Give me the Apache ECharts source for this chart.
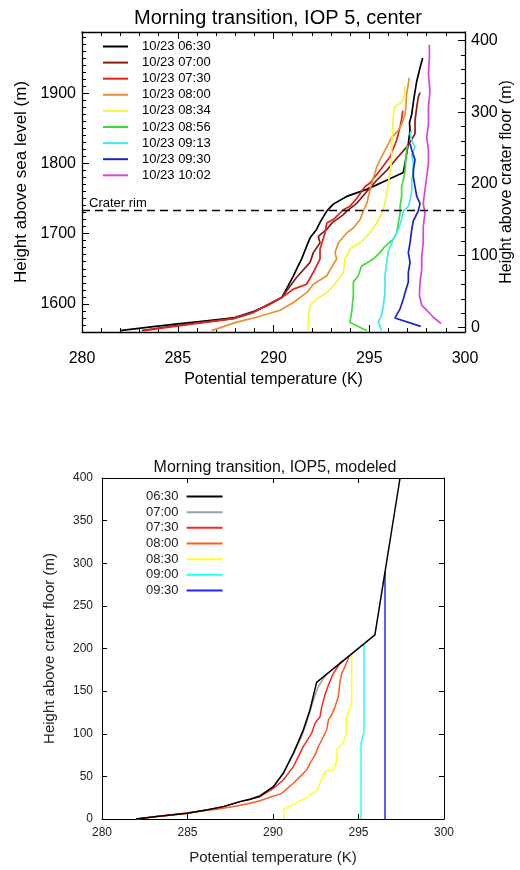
<!DOCTYPE html>
<html><head><meta charset="utf-8">
<script src="https://cdn.jsdelivr.net/npm/echarts@6/dist/echarts.min.js"></script>
<style>html,body{margin:0;padding:0;background:#fff}#c{width:520px;height:870px}</style>
</head><body><div id="c"></div>
<script>
const FONT = '"Liberation Sans", Arial, sans-serif';

// ---------- Top panel: observed profiles [potential temperature K, height ASL m]
const obsLabels = ['10/23 06:30','10/23 07:00','10/23 07:30','10/23 08:00','10/23 08:34','10/23 08:56','10/23 09:13','10/23 09:30','10/23 10:02'];
const obsColors = ['#000000','#8a1c12','#e0201c','#e8902e','#f6f43c','#3ede3a','#44e8e6','#1c22c8','#e03ee0'];
const obs0630 = [[281.98,1562],[283.5,1567],[285.12,1572],[286.5,1576],[287.90,1580],[288.95,1589],[289.7,1598],[290.43,1609],[290.75,1625],[291.04,1640],[291.25,1652],[291.47,1664],[291.7,1680],[291.91,1694],[292.25,1706],[292.43,1716],[292.78,1732],[293.12,1742],[293.82,1753],[294.87,1763],[295.91,1776],[296.78,1787],[296.9,1805],[297.04,1828],[297.13,1847],[297.1,1858],[297.22,1870],[297.34,1894],[297.48,1917],[297.65,1936],[297.79,1950]];
const obs0700 = [[283.12,1562],[285.12,1570],[287.90,1579],[288.95,1588],[290.43,1609],[291.21,1638],[291.91,1659],[292.08,1673],[292.43,1687],[292.34,1696],[292.78,1706],[293.04,1715],[293.65,1727],[293.82,1732],[294.34,1743],[294.87,1760],[295.39,1776],[295.91,1790],[296.43,1807],[297.04,1826],[297.39,1842],[297.39,1861],[297.48,1880],[297.56,1894],[297.65,1901]];
const obs0730 = [[283.20,1562],[285.12,1569],[287.90,1579],[288.95,1588],[290.43,1609],[291.04,1621],[291.73,1628],[292.08,1645],[292.43,1664],[292.43,1678],[292.69,1701],[292.78,1715],[293.12,1720],[293.65,1734],[293.99,1739],[294.34,1750],[294.78,1767],[295.04,1772],[295.56,1790],[296.08,1809],[296.43,1833],[296.61,1852],[296.69,1863],[296.75,1875]];
const obs0800 = [[286.77,1562],[288.08,1574],[289.12,1581],[290.34,1591],[291.04,1602],[291.73,1616],[292.08,1628],[292.78,1640],[293.12,1656],[293.30,1664],[293.21,1673],[293.39,1687],[293.82,1701],[294.17,1708],[294.52,1720],[294.69,1732],[294.87,1743],[295.04,1762],[295.21,1779],[295.39,1795],[295.56,1805],[295.91,1823],[296.17,1837],[296.52,1847],[296.69,1856],[296.87,1870],[296.92,1884],[296.95,1898],[297.04,1913],[297.09,1922]];
const obs0834 = [[291.82,1562],[291.82,1584],[291.91,1598],[292.25,1607],[292.78,1616],[293.30,1631],[293.65,1645],[293.73,1664],[293.82,1668],[293.99,1678],[294.52,1687],[295.04,1701],[295.39,1715],[295.65,1729],[295.82,1743],[295.91,1757],[296.00,1772],[296.08,1786],[296.17,1805],[296.17,1823],[296.22,1847],[296.26,1870],[296.34,1880],[296.69,1887],[296.87,1898],[296.87,1910]];
const obs0856 = [[294.87,1562],[294.34,1569],[293.99,1574],[294.08,1588],[294.17,1612],[294.17,1631],[294.43,1640],[294.60,1654],[295.21,1664],[295.56,1673],[295.82,1682],[296.26,1692],[296.43,1701],[296.52,1715],[296.61,1729],[296.61,1739],[296.69,1753],[296.69,1767],[296.78,1776],[296.87,1790],[296.92,1809],[296.99,1826]];
const obs0913 = [[295.65,1562],[295.47,1574],[295.65,1584],[295.74,1598],[295.82,1616],[295.82,1640],[295.91,1659],[296.00,1675],[296.26,1692],[296.52,1706],[296.69,1720],[296.78,1732],[297.04,1739],[297.13,1748],[297.22,1762],[297.22,1776],[297.30,1786],[297.30,1800],[297.22,1812],[297.39,1823],[297.22,1833],[297.13,1842],[297.22,1847]];
const obs0930 = [[297.69,1568],[296.34,1580],[296.61,1593],[296.78,1607],[296.87,1616],[297.04,1631],[297.04,1645],[297.13,1659],[297.04,1673],[297.13,1687],[297.22,1706],[297.30,1718],[297.56,1732],[297.65,1743],[297.48,1753],[297.39,1767],[297.30,1781],[297.30,1790],[297.39,1805],[297.22,1819],[297.13,1828]];
const obs1002 = [[298.75,1572],[298.35,1581],[298.00,1591],[297.74,1598],[297.62,1612],[297.65,1631],[297.74,1649],[297.74,1668],[297.82,1687],[297.82,1710],[297.91,1729],[297.82,1743],[297.91,1762],[298.00,1781],[298.09,1800],[298.09,1819],[298.00,1837],[298.09,1856],[298.09,1880],[298.17,1903],[298.09,1927],[298.14,1950],[298.14,1969]];
const obsData = [obs0630, obs0700, obs0730, obs0800, obs0834, obs0856, obs0913, obs0930, obs1002];
const craterRim = 1733;           // m ASL
const aslRange = [1560, 1987];     // left axis
const floorRange = [-6.3, 411.8];  // right axis
const aslTickLabels = [1600, 1700, 1800, 1900];
const floorTickLabels = [0, 100, 200, 300, 400];

// ---------- Bottom panel: modeled profiles [potential temperature K, height above floor m]
const modLabels = ['06:30','07:00','07:30','08:00','08:30','09:00','09:30'];
const modColors = ['#000000','#a0a0a0','#ff2424','#ff5a22','#ffff1e','#22ffff','#2424ff'];
const mod0630 = [[281.99,0],[283.20,2.8],[284.95,6.7],[286.12,10.6],[287.10,14.5],[288.07,20.4],[288.66,23.1],[289.24,27.0],[290.02,37.9],[290.60,53.6],[291.19,77.0],[291.77,104.4],[292.16,127.9],[292.55,160.3],[295.96,215.9],[297.43,400]];
const mod0700 = [[281.99,0],[283.20,2.8],[284.95,6.7],[286.12,10.6],[287.10,14.5],[288.07,20.4],[288.66,23.1],[289.24,27.0],[290.02,37.9],[290.60,53.6],[291.19,77.0],[291.66,96],[291.88,108],[292.10,122],[292.28,134],[292.46,145],[292.62,154],[292.80,160],[293.10,169.3]];
const mod0730 = [[281.99,0],[283.20,2.8],[284.95,6.7],[286.12,10.6],[287.10,14.5],[288.07,20.4],[288.66,23.1],[289.24,26.2],[290.02,36.0],[290.60,45.8],[291.19,61.4],[291.48,73.1],[291.77,84.9],[292.26,100.5],[292.46,112.3],[292.75,120.1],[292.85,131.8],[293.04,145.5],[293.24,157.2],[293.53,170.9],[293.92,182.6],[294.11,185.7]];
const mod0800 = [[281.99,0],[283.20,2.8],[284.95,6.5],[286.12,10.2],[286.71,11.4],[287.88,15.3],[288.66,18.4],[289.24,21.5],[289.92,26.2],[290.51,30.1],[291.19,41.9],[291.58,49.7],[291.97,57.5],[292.16,65.3],[292.46,75.1],[292.65,84.9],[292.85,92.7],[293.14,104.4],[293.24,116.2],[293.43,122.0],[293.63,131.8],[293.82,143.5],[293.92,161.1],[294.02,170.9],[294.21,178.7],[294.46,191.4]];
const mod0830 = [[290.64,0],[290.64,11.4],[290.99,14.5],[291.48,20.4],[292.07,26.2],[292.26,30.1],[292.55,32.1],[292.75,41.9],[293.04,55.5],[293.53,57.5],[293.72,67.3],[293.76,82.9],[294.11,88.8],[294.27,100.5],[294.31,120.1],[294.41,122.0],[294.60,135.7],[294.60,193.7]];
const mod0900 = [[295.15,0],[295.15,88.8],[295.24,96.6],[295.32,102.5],[295.32,205.5]];
const mod0930 = [[296.55,0],[296.55,289.6]];
const modData = [mod0630, mod0700, mod0730, mod0800, mod0830, mod0900, mod0930];
const thetaTicks = [280, 300, 5];

// minor tick positions (tick values, not data)
function steps(a, b, s) { const r = []; for (let v = a; v <= b + 1e-9; v += s) r.push(Math.round(v * 1000) / 1000); return r; }
const thetaMinor = steps(280, 300, 1);
const aslMinor = steps(1560, 1980, 10);
const floorMinor = steps(0, 400, 20);

// ---------- helpers
function xAx(grid, pos, showLabel, big) {
  return {
    type: 'value', gridIndex: grid, position: pos, min: thetaTicks[0], max: thetaTicks[1], interval: thetaTicks[2],
    axisLine: {show: true, onZero: false, lineStyle: {color: '#000', width: big ? 1.3 : 1}},
    axisTick: {show: true, inside: true, length: big ? 7 : 5, lineStyle: {color: '#000', width: 1}},
    splitLine: {show: false},
    axisLabel: {show: showLabel, fontSize: big ? 16 : 12, color: big ? '#000' : '#222', margin: big ? 19 : 8, fontFamily: FONT},
    name: showLabel ? 'Potential temperature (K)' : '',
    nameLocation: 'middle', nameGap: big ? 40 : 31,
    nameTextStyle: {fontSize: big ? 16 : 15, color: big ? '#000' : '#222', fontFamily: FONT}
  };
}
function tickAx(grid, pos, range, values) {
  return {
    type: 'value', gridIndex: grid, position: pos, min: range[0], max: range[1],
    axisLine: {show: false, onZero: false},
    axisTick: {show: true, inside: true, length: 4, customValues: values, lineStyle: {color: '#000', width: 1}},
    axisLabel: {show: false},
    splitLine: {show: false}
  };
}
function yAx(grid, pos, range, name, labels, opts) {
  return Object.assign({
    type: 'value', gridIndex: grid, position: pos, min: range[0], max: range[1],
    axisLine: {show: true, onZero: false, lineStyle: {color: '#000', width: 1.3}},
    axisTick: {show: true, inside: true, length: 7, customValues: labels, lineStyle: {color: '#000', width: 1}},
    splitLine: {show: false},
    axisLabel: {show: true, fontSize: 16, color: '#000', margin: 6, fontFamily: FONT, customValues: labels, formatter: v => String(v)},
    name: name, nameLocation: 'middle', nameGap: 48,
    nameTextStyle: {fontSize: 17, color: '#000', fontFamily: FONT}
  }, opts || {});
}

const series = [];
obsLabels.forEach((nm, i) => {
  series.push({
    name: nm, type: 'line', xAxisIndex: 0, yAxisIndex: 0, data: obsData[i],
    symbol: 'none', smooth: false, lineStyle: {color: obsColors[i], width: 1.7}, itemStyle: {color: obsColors[i]},
    z: 3, animation: false
  });
});
series.push({
  name: 'rim', type: 'line', xAxisIndex: 0, yAxisIndex: 0, data: [], symbol: 'none', animation: false,
  markLine: {
    silent: true, symbol: 'none', animation: false,
    lineStyle: {color: '#000', width: 1.4, type: [8, 5]},
    label: {show: true, position: 'insideStartTop', distance: [7, 1], formatter: 'Crater rim', fontSize: 13, color: '#000', fontFamily: FONT},
    data: [{yAxis: craterRim}]
  }
});
// bottom: draw black last so it sits on top
const drawOrder = [1, 2, 3, 4, 5, 6, 0];
drawOrder.forEach(i => {
  series.push({
    name: modLabels[i], type: 'line', xAxisIndex: 2, yAxisIndex: 2, data: modData[i],
    symbol: 'none', smooth: false, lineStyle: {color: modColors[i], width: 1.5}, itemStyle: {color: modColors[i]},
    animation: false
  });
});

const chart = echarts.init(document.getElementById('c'), null, {renderer: 'canvas'});
chart.setOption({
  backgroundColor: '#fff',
  animation: false,
  title: [
    {text: 'Morning transition, IOP 5, center', left: 273, top: 3, textAlign: 'center',
     textStyle: {fontSize: 20, fontWeight: 'normal', color: '#000', fontFamily: FONT}},
    {text: 'Morning transition, IOP5, modeled', left: 270, top: 455, textAlign: 'center',
     textStyle: {fontSize: 16, fontWeight: 'normal', color: '#111', fontFamily: FONT}}
  ],
  grid: [
    {left: 82, top: 32, width: 383, height: 300, containLabel: false, outerBoundsMode: 'none'},
    {left: 102, top: 478, width: 342, height: 341, containLabel: false, outerBoundsMode: 'none'}
  ],
  legend: [
    {data: obsLabels, orient: 'vertical', left: 103, top: 40, padding: 0, icon: 'rect', itemWidth: 25, itemHeight: 2, itemGap: 3.1,
     selectedMode: false, textStyle: {fontSize: 13, color: '#000', fontFamily: FONT, lineHeight: 12, padding: [0, 0, 0, 9]}},
    {data: modLabels, orient: 'vertical', left: 146, top: 490, padding: 0, align: 'right', icon: 'rect', itemWidth: 36, itemHeight: 2, itemGap: 2.67,
     selectedMode: false, textStyle: {fontSize: 13, color: '#222', fontFamily: FONT, lineHeight: 10, padding: [0, 3, 0, 0]}}
  ],
  xAxis: [
    xAx(0, 'bottom', true, true),
    xAx(0, 'top', false, true),
    xAx(1, 'bottom', true, false),
    xAx(1, 'top', false, false),
    tickAx(0, 'bottom', [280, 300], thetaMinor),
    tickAx(0, 'top', [280, 300], thetaMinor)
  ],
  yAxis: [
    yAx(0, 'left', aslRange, 'Height above sea level (m)', aslTickLabels),
    yAx(0, 'right', floorRange, 'Height above crater floor (m)', floorTickLabels,
        {nameGap: 34, nameMoveOverlap: false, nameTextStyle: {fontSize: 16, color: '#000', fontFamily: FONT}}),
    {
      type: 'value', gridIndex: 1, position: 'left', min: 0, max: 400, interval: 50,
      axisLine: {show: true, onZero: false, lineStyle: {color: '#000', width: 1}},
      axisTick: {show: true, inside: true, length: 5, lineStyle: {color: '#000', width: 1}},
      splitLine: {show: false},
      axisLabel: {show: true, fontSize: 12, color: '#222', margin: 9, fontFamily: FONT},
      name: 'Height above crater floor (m)', nameLocation: 'middle', nameGap: 45,
      nameTextStyle: {fontSize: 15, color: '#222', fontFamily: FONT}
    },
    {
      type: 'value', gridIndex: 1, position: 'right', min: 0, max: 400, interval: 50,
      axisLine: {show: true, onZero: false, lineStyle: {color: '#000', width: 1}},
      axisTick: {show: true, inside: true, length: 5, lineStyle: {color: '#000', width: 1}},
      splitLine: {show: false}, axisLabel: {show: false}
    },
    tickAx(0, 'left', aslRange, aslMinor),
    tickAx(0, 'right', floorRange, floorMinor)
  ],
  series: series
});
</script></body></html>
